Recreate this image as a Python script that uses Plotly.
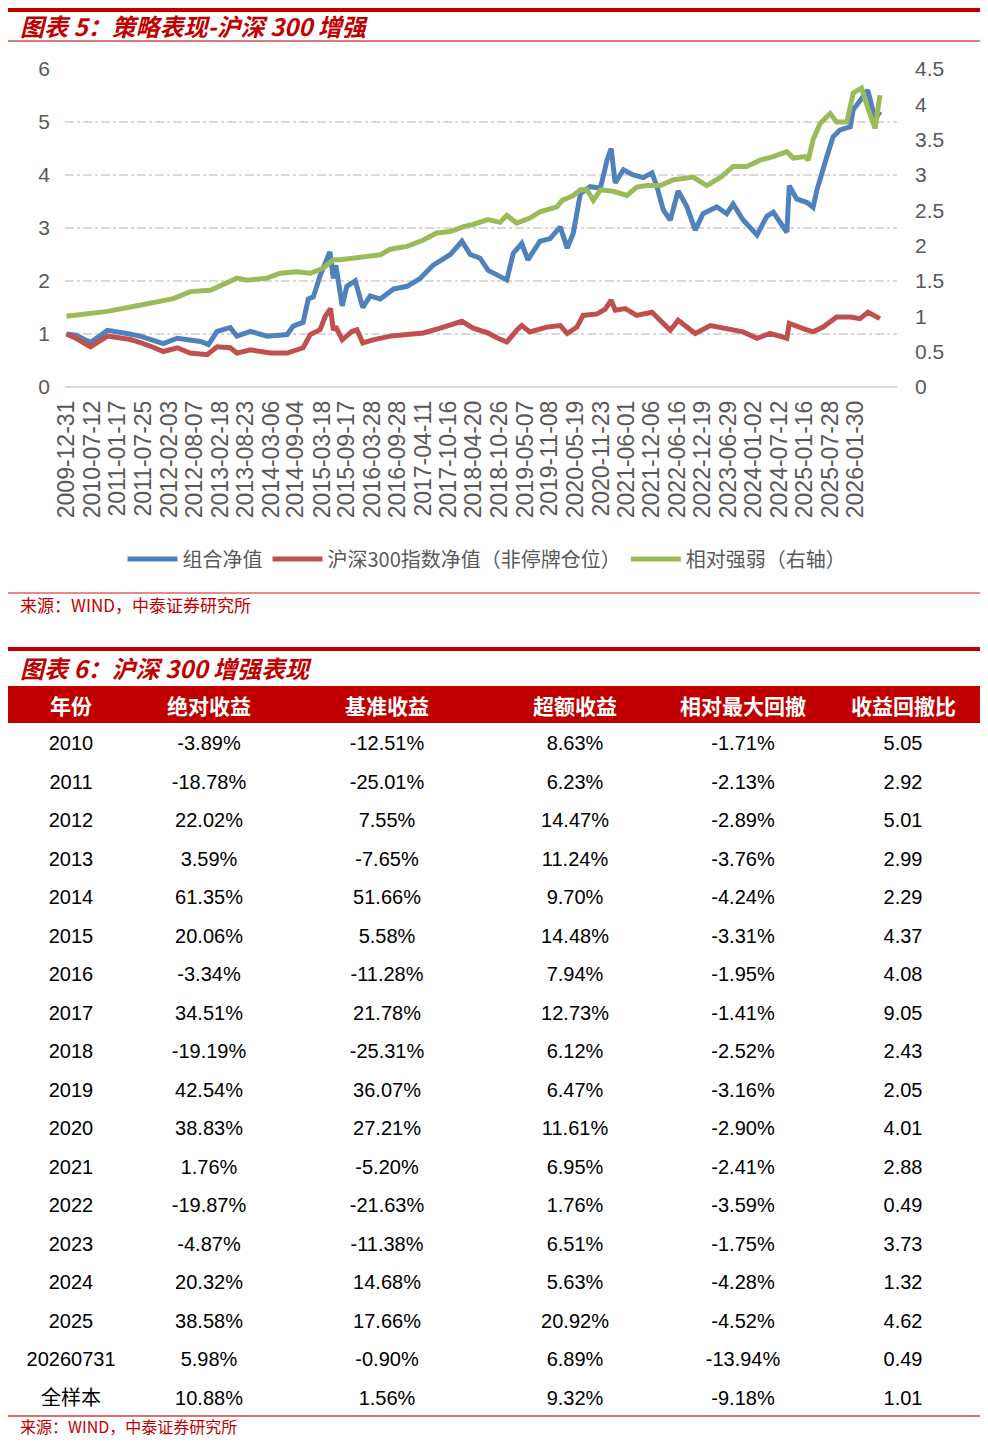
import plotly.graph_objects as go

# ---- 图表5：策略表现-沪深300增强 ----
port_dates = [
    "2009-12-31", "2010-03-12", "2010-06-28", "2010-11-01", "2011-03-25", "2011-07-03",
    "2011-12-22", "2012-04-03", "2012-09-25", "2012-11-22", "2013-01-25", "2013-05-03",
    "2013-06-22", "2013-10-01", "2014-02-01", "2014-07-01", "2014-08-15", "2014-10-28",
    "2014-12-05", "2015-01-12", "2015-03-03", "2015-05-15", "2015-06-10", "2015-06-28",
    "2015-08-15", "2015-09-18", "2015-11-20", "2016-01-15", "2016-03-10", "2016-05-24",
    "2016-09-01", "2016-12-10", "2017-03-18", "2017-06-22", "2017-10-28", "2018-01-22",
    "2018-03-25", "2018-06-06", "2018-08-06", "2018-10-10", "2018-12-22", "2019-02-08",
    "2019-04-12", "2019-05-28", "2019-08-26", "2019-11-10", "2020-01-24", "2020-03-16",
    "2020-04-30", "2020-06-22", "2020-09-03", "2020-11-18", "2021-01-06", "2021-02-06",
    "2021-03-08", "2021-05-08", "2021-07-20", "2021-10-03", "2021-12-07", "2022-01-13",
    "2022-03-01", "2022-04-22", "2022-06-20", "2022-08-24", "2022-10-25", "2022-12-22",
    "2023-04-03", "2023-06-16", "2023-08-03", "2023-10-16", "2024-01-28", "2024-04-10",
    "2024-05-28", "2024-09-06", "2024-09-24", "2024-11-18", "2025-02-03", "2025-03-20",
    "2025-04-16", "2025-07-01", "2025-08-16", "2025-10-07", "2025-12-22", "2026-01-13",
    "2026-03-04", "2026-05-01", "2026-05-20", "2026-06-25", "2026-07-31",
]
port_nav = [
    1.00, 0.98, 0.84, 1.07, 1.01, 0.96,
    0.82, 0.92, 0.86, 0.80, 1.05, 1.12,
    0.96, 1.05, 0.96, 0.99, 1.15, 1.22,
    1.66, 1.70, 2.10, 2.55, 2.05, 2.30,
    1.53, 1.90, 2.00, 1.50, 1.72, 1.66,
    1.85, 1.90, 2.05, 2.30, 2.50, 2.75,
    2.50, 2.43, 2.20, 2.12, 2.02, 2.52,
    2.71, 2.40, 2.75, 2.80, 3.02, 2.62,
    2.90, 3.65, 3.78, 3.75, 4.28, 4.50,
    3.85, 4.10, 4.00, 3.95, 4.04, 3.78,
    3.34, 3.15, 3.70, 3.40, 2.96, 3.27,
    3.40, 3.27, 3.45, 3.15, 2.87, 3.22,
    3.30, 2.92, 3.80, 3.55, 3.48, 3.39,
    3.70, 4.35, 4.72, 4.85, 4.91, 5.23,
    5.42, 5.60, 5.42, 5.04, 5.20,
]

hs300_dates = [
    "2009-12-31", "2010-03-12", "2010-06-28", "2010-11-01", "2011-04-10", "2011-06-08",
    "2011-10-08", "2011-12-22", "2012-04-03", "2012-07-10", "2012-11-12", "2013-01-25",
    "2013-05-03", "2013-06-22", "2013-10-01", "2014-02-27", "2014-07-01", "2014-10-28",
    "2014-12-20", "2015-03-03", "2015-04-10", "2015-05-20", "2015-06-10", "2015-06-28",
    "2015-08-15", "2015-10-27", "2015-12-03", "2016-01-15", "2016-04-01", "2016-08-06",
    "2016-12-10", "2017-04-10", "2017-08-13", "2017-11-18", "2018-01-22", "2018-04-15",
    "2018-08-02", "2018-10-18", "2018-12-22", "2019-03-06", "2019-04-12", "2019-06-12",
    "2019-10-15", "2020-01-24", "2020-03-16", "2020-05-27", "2020-07-12", "2020-10-24",
    "2020-12-24", "2021-02-06", "2021-03-08", "2021-05-22", "2021-08-15", "2021-12-07",
    "2022-03-01", "2022-04-22", "2022-06-20", "2022-10-25", "2023-02-15", "2023-06-16",
    "2023-10-16", "2024-01-28", "2024-05-04", "2024-09-06", "2024-09-24", "2025-01-06",
    "2025-03-20", "2025-06-03", "2025-09-12", "2025-12-22", "2026-03-04", "2026-05-03",
    "2026-06-25", "2026-07-31",
]
hs300_nav = [
    1.00, 0.92, 0.76, 0.96, 0.90, 0.86,
    0.75, 0.67, 0.74, 0.64, 0.61, 0.76,
    0.74, 0.64, 0.70, 0.64, 0.64, 0.74,
    0.99, 1.08, 1.33, 1.48, 1.07, 1.14,
    0.89, 1.05, 1.08, 0.83, 0.89, 0.96,
    0.99, 1.02, 1.11, 1.18, 1.24, 1.11,
    1.02, 0.92, 0.85, 1.07, 1.16, 1.04,
    1.13, 1.16, 1.01, 1.13, 1.35, 1.38,
    1.47, 1.64, 1.45, 1.48, 1.35, 1.41,
    1.19, 1.07, 1.26, 1.01, 1.16, 1.10,
    1.04, 0.92, 1.01, 0.92, 1.20, 1.10,
    1.04, 1.13, 1.32, 1.32, 1.29, 1.41,
    1.35, 1.29,
]

rel_dates = [
    "2009-12-31", "2010-11-01", "2011-05-12", "2011-09-15", "2012-03-06", "2012-07-10",
    "2012-12-06", "2013-06-22", "2013-09-06", "2014-02-01", "2014-05-10", "2014-09-12",
    "2014-12-20", "2015-03-25", "2015-06-10", "2015-07-31", "2015-12-28", "2016-05-24",
    "2016-08-06", "2016-12-10", "2017-04-10", "2017-07-18", "2017-10-28", "2018-02-03",
    "2018-04-15", "2018-08-02", "2018-11-02", "2018-12-22", "2019-03-06", "2019-06-12",
    "2019-08-26", "2019-12-31", "2020-02-06", "2020-04-30", "2020-06-22", "2020-08-10",
    "2020-09-26", "2020-11-18", "2021-02-21", "2021-06-03", "2021-08-15", "2021-10-31",
    "2022-02-06", "2022-05-12", "2022-10-09", "2023-01-18", "2023-05-03", "2023-08-03",
    "2023-11-12", "2024-02-20", "2024-05-28", "2024-09-06", "2024-10-24", "2025-01-20",
    "2025-02-12", "2025-03-20", "2025-05-12", "2025-07-25", "2025-09-12", "2025-11-27",
    "2026-01-13", "2026-03-16", "2026-05-03", "2026-06-25", "2026-07-31",
]
rel_strength = [
    1.00, 1.07, 1.14, 1.18, 1.25, 1.35,
    1.37, 1.54, 1.51, 1.54, 1.61, 1.63,
    1.61, 1.68, 1.80, 1.80, 1.84, 1.87,
    1.95, 1.99, 2.08, 2.18, 2.20, 2.27,
    2.30, 2.37, 2.33, 2.43, 2.32, 2.39,
    2.48, 2.55, 2.64, 2.71, 2.79, 2.79,
    2.64, 2.79, 2.77, 2.71, 2.83, 2.85,
    2.85, 2.93, 2.97, 2.85, 2.97, 3.12,
    3.12, 3.21, 3.26, 3.33, 3.24, 3.26,
    3.21, 3.50, 3.73, 3.87, 3.75, 3.75,
    4.16, 4.23, 3.94, 3.66, 4.13,
]

tick_dates = [
    "2009-12-31", "2010-07-12", "2011-01-17", "2011-07-25", "2012-02-03", "2012-08-07",
    "2013-02-18", "2013-08-23", "2014-03-06", "2014-09-04", "2015-03-18", "2015-09-17",
    "2016-03-28", "2016-09-28", "2017-04-11", "2017-10-16", "2018-04-20", "2018-10-26",
    "2019-05-07", "2019-11-08", "2020-05-19", "2020-11-23", "2021-06-01", "2021-12-06",
    "2022-06-16", "2022-12-19", "2023-06-29", "2024-01-02", "2024-07-12", "2025-01-16",
    "2025-07-28", "2026-01-30",
]

# ---- 图表6：沪深300增强表现 ----
headers = ["年份", "绝对收益", "基准收益", "超额收益", "相对最大回撤", "收益回撤比"]
years = ["2010", "2011", "2012", "2013", "2014", "2015", "2016", "2017", "2018",
         "2019", "2020", "2021", "2022", "2023", "2024", "2025", "20260731", "全样本"]
abs_ret = ["-3.89%", "-18.78%", "22.02%", "3.59%", "61.35%", "20.06%", "-3.34%", "34.51%", "-19.19%",
           "42.54%", "38.83%", "1.76%", "-19.87%", "-4.87%", "20.32%", "38.58%", "5.98%", "10.88%"]
bench_ret = ["-12.51%", "-25.01%", "7.55%", "-7.65%", "51.66%", "5.58%", "-11.28%", "21.78%", "-25.31%",
             "36.07%", "27.21%", "-5.20%", "-21.63%", "-11.38%", "14.68%", "17.66%", "-0.90%", "1.56%"]
excess_ret = ["8.63%", "6.23%", "14.47%", "11.24%", "9.70%", "14.48%", "7.94%", "12.73%", "6.12%",
              "6.47%", "11.61%", "6.95%", "1.76%", "6.51%", "5.63%", "20.92%", "6.89%", "9.32%"]
rel_mdd = ["-1.71%", "-2.13%", "-2.89%", "-3.76%", "-4.24%", "-3.31%", "-1.95%", "-1.41%", "-2.52%",
           "-3.16%", "-2.90%", "-2.41%", "-3.59%", "-1.75%", "-4.28%", "-4.52%", "-13.94%", "-9.18%"]
ret_dd_ratio = ["5.05", "2.92", "5.01", "2.99", "2.29", "4.37", "4.08", "9.05", "2.43",
                "2.05", "4.01", "2.88", "0.49", "3.73", "1.32", "4.62", "0.49", "1.01"]

# 页面 988x1446，body 默认有 8px 边距，图本身取 972x1430
PAGE_W, PAGE_H, BODY = 988, 1446, 8
W, H = PAGE_W - 2 * BODY, PAGE_H - 2 * BODY
RED = "#C00000"
GRAY = "#595959"
CJK = "Noto Sans CJK SC"
col_edges = [8, 134, 284, 490, 660, 826, 980]   # 表格列边界（页面像素）


def fx(p):
    return (p - BODY) / W


def fy(p):
    return 1 - (p - BODY) / H


fig = go.Figure()
fig.add_trace(go.Scatter(x=port_dates, y=port_nav, name="组合净值", mode="lines",
                         line=dict(color="#4F81BD", width=5)))
fig.add_trace(go.Scatter(x=hs300_dates, y=hs300_nav, name="沪深300指数净值（非停牌仓位）", mode="lines",
                         line=dict(color="#C0504D", width=5)))
fig.add_trace(go.Scatter(x=rel_dates, y=rel_strength, name="相对强弱（右轴）", mode="lines", yaxis="y2",
                         line=dict(color="#9BBB59", width=5)))

widths = [b - a for a, b in zip(col_edges[:-1], col_edges[1:])]
fig.add_trace(go.Table(
    domain=dict(x=[fx(col_edges[0]), fx(col_edges[-1])], y=[fy(1423), fy(711)]),
    columnwidth=widths,
    header=dict(values=[""] * 6, fill_color="white", line_color="white", height=16,
                font=dict(size=1, color="white")),
    cells=dict(values=[years, abs_ret, bench_ret, excess_ret, rel_mdd, ret_dd_ratio],
               fill_color="white", line_color="white",
               font=dict(color="black", size=20, family="Liberation Sans, " + CJK),
               height=38.5, align="center"),
))

# 表头底色（画在表格之上）
fig.add_shape(type="rect", xref="paper", yref="paper", x0=fx(8), x1=fx(980), y0=fy(723), y1=fy(686),
              fillcolor=RED, line=dict(width=0), layer="above")
for h, a, b in zip(headers, col_edges[:-1], col_edges[1:]):
    fig.add_annotation(text="<b>%s</b>" % h, xref="paper", yref="paper", x=fx((a + b) / 2), y=fy(705),
                       xanchor="center", yanchor="middle", showarrow=False,
                       font=dict(size=21, color="white", family=CJK))

fig.update_layout(
    width=W, height=H, margin=dict(l=0, r=0, t=0, b=0, autoexpand=False),
    paper_bgcolor="white", plot_bgcolor="white",
    xaxis=dict(type="date", domain=[fx(65), fx(897)], range=["2009-12-20", "2026-12-05"],
               tickmode="array", tickvals=tick_dates, ticktext=tick_dates, tickangle=-90,
               tickfont=dict(size=23, color=GRAY, family="Liberation Sans"), ticklabelstandoff=8,
               showgrid=False, showline=False, zeroline=False, ticks="", automargin=False),
    yaxis=dict(domain=[fy(387), fy(69)], range=[0, 6], dtick=1,
               tickfont=dict(size=21, color=GRAY, family="Liberation Sans"),
               gridcolor="#D9D9D9", griddash="dashdot", gridwidth=1.5, automargin=False,
               zeroline=True, zerolinecolor="#D9D9D9", zerolinewidth=2, ticks="", ticklabelstandoff=14),
    yaxis2=dict(overlaying="y", side="right", range=[0, 4.5], dtick=0.5,
                tickfont=dict(size=21, color=GRAY, family="Liberation Sans"),
                showgrid=False, zeroline=False, ticks="", ticklabelstandoff=17, automargin=False),
    legend=dict(orientation="h", x=fx(487), xanchor="center", y=fy(559), yanchor="middle",
                font=dict(size=20, color=GRAY, family=CJK), itemwidth=50, tracegroupgap=0),
    showlegend=True,
)

# 分隔线
for y0, w, c in [(10, 4, RED), (41, 1.5, "#D05050"), (593, 1.5, "#E06060"), (649, 4, RED), (1416, 1.5, "#D04040")]:
    fig.add_shape(type="line", xref="paper", yref="paper", x0=fx(8), x1=fx(980), y0=fy(y0), y1=fy(y0),
                  line=dict(color=c, width=w))

title_font = dict(size=24, color=RED, family=CJK)
for txt, y0, f in [("<b><i>图表 5：策略表现-沪深 300 增强</i></b>", 25, title_font),
                   ("来源：WIND，中泰证券研究所", 605, dict(size=17, color=RED, family=CJK)),
                   ("<b><i>图表 6：沪深 300 增强表现</i></b>", 667, title_font),
                   ("来源：WIND，中泰证券研究所", 1426, dict(size=16, color=RED, family=CJK))]:
    fig.add_annotation(text=txt, xref="paper", yref="paper", x=fx(18), y=fy(y0),
                       xanchor="left", yanchor="middle", showarrow=False, font=f)

fig.write_html("out.html")
